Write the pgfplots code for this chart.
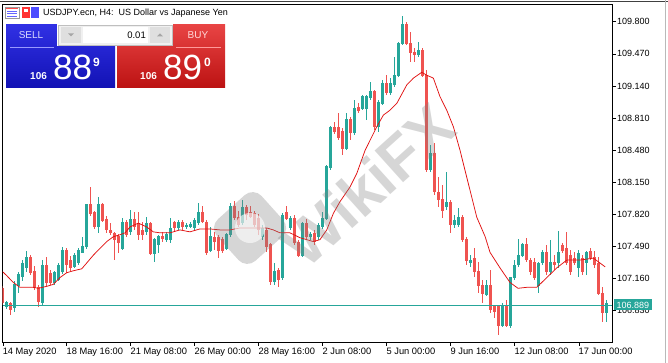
\documentclass[border=0pt]{standalone}
\usepackage{pgfplots}
\pgfplotsset{compat=1.18}
\usepackage{pgfplotstable}
\usepackage{fontspec}
\setmainfont{Liberation Sans}
\definecolor{bull}{HTML}{26A69A}
\definecolor{bear}{HTML}{EF5350}
\definecolor{maline}{HTML}{E01010}
\definecolor{blueTop}{HTML}{3030E4}
\definecolor{blueBot}{HTML}{1212B4}
\definecolor{redTop}{HTML}{E84444}
\definecolor{redBot}{HTML}{BC1212}

\pgfplotstableread{
i o h l c
0 106.87 106.93 106.85 106.91
2 106.86 107.13 106.82 107.10
3 107.09 107.23 107.01 107.20
4 107.18 107.35 107.14 107.32
5 107.27 107.44 107.23 107.38
9 106.91 107.35 106.89 107.30
12 107.12 107.24 107.09 107.22
13 107.15 107.32 107.13 107.30
14 107.23 107.49 107.21 107.45
17 107.28 107.42 107.27 107.40
18 107.32 107.47 107.30 107.45
19 107.43 107.59 107.42 107.49
20 107.49 107.93 107.46 107.92
23 107.69 108.00 107.63 107.92
29 107.47 107.78 107.45 107.74
31 107.64 107.86 107.61 107.77
35 107.64 107.79 107.61 107.73
37 107.42 107.58 107.33 107.56
38 107.51 107.61 107.42 107.59
40 107.56 107.64 107.54 107.61
41 107.56 107.78 107.53 107.68
43 107.68 107.76 107.66 107.74
45 107.69 107.73 107.67 107.71
46 107.70 107.74 107.68 107.72
47 107.68 107.78 107.66 107.76
48 107.74 107.94 107.71 107.84
51 107.45 107.69 107.43 107.59
55 107.47 107.63 107.45 107.61
56 107.61 107.94 107.59 107.90
59 107.73 107.97 107.71 107.89
64 107.59 107.71 107.56 107.68
67 107.13 107.32 107.09 107.23
69 107.17 107.83 107.15 107.81
71 107.68 107.80 107.66 107.78
74 107.40 107.74 107.38 107.73
76 107.59 107.64 107.56 107.61
78 107.59 107.73 107.56 107.71
79 107.69 107.84 107.67 107.78
80 107.78 108.33 107.76 108.31
81 108.30 108.73 108.28 108.71
85 108.50 108.86 108.48 108.80
87 108.66 109.00 108.64 108.91
89 108.91 109.05 108.89 109.03
90 108.91 109.05 108.79 109.03
91 109.02 109.18 109.00 109.08
93 108.72 109.00 108.67 108.97
94 108.96 109.20 108.94 109.17
96 109.07 109.22 109.05 109.17
97 109.15 109.44 109.13 109.25
98 109.25 109.59 109.23 109.58
99 109.58 109.86 109.56 109.77
103 109.46 109.59 109.44 109.51
106 108.28 108.53 108.26 108.45
110 107.90 108.26 107.86 107.94
112 107.71 107.81 107.68 107.76
113 107.71 107.89 107.69 107.79
116 107.32 107.40 107.28 107.35
120 107.00 107.15 106.98 107.09
124 106.68 106.91 106.66 106.87
126 106.68 107.18 106.65 107.17
127 107.17 107.35 107.15 107.30
128 107.30 107.57 107.28 107.40
129 107.40 107.53 107.38 107.51
133 107.09 107.33 107.01 107.32
134 107.32 107.45 107.30 107.43
136 107.23 107.56 107.20 107.33
138 107.33 107.65 107.27 107.43
143 107.27 107.45 107.18 107.42
145 107.33 107.44 107.20 107.43
150 106.81 106.94 106.71 106.91
}\bulldata

\pgfplotstableread{
i o h l c
-1 107.06 107.08 106.89 106.91
1 106.91 106.92 106.79 106.84
6 107.38 107.40 107.20 107.22
7 107.23 107.29 107.04 107.07
8 107.07 107.09 106.87 106.92
10 107.30 107.38 107.08 107.12
11 107.21 107.25 107.09 107.12
15 107.45 107.47 107.22 107.30
16 107.35 107.39 107.24 107.27
21 107.92 108.10 107.80 107.83
22 107.84 107.86 107.67 107.69
24 107.92 107.94 107.74 107.76
25 107.77 107.80 107.63 107.66
26 107.66 107.73 107.61 107.63
27 107.63 107.64 107.35 107.56
28 107.59 107.62 107.42 107.53
30 107.74 107.76 107.59 107.61
32 107.77 107.84 107.66 107.69
33 107.73 107.84 107.56 107.61
34 107.66 107.74 107.56 107.61
36 107.73 107.74 107.40 107.42
39 107.59 107.64 107.54 107.57
42 107.74 107.75 107.64 107.68
44 107.74 107.76 107.66 107.69
49 107.84 107.91 107.73 107.75
50 107.74 107.76 107.40 107.43
52 107.58 107.64 107.45 107.54
53 107.58 107.61 107.37 107.45
54 107.56 107.59 107.42 107.45
57 107.90 107.96 107.76 107.79
58 107.79 107.86 107.69 107.71
60 107.89 107.92 107.76 107.82
61 107.84 107.91 107.78 107.80
62 107.83 107.86 107.69 107.71
63 107.78 107.82 107.61 107.66
65 107.66 107.68 107.43 107.49
66 107.51 107.53 107.09 107.13
68 107.25 107.27 107.07 107.15
70 107.84 107.91 107.76 107.78
72 107.78 107.81 107.51 107.53
73 107.53 107.56 107.38 107.40
75 107.73 107.77 107.56 107.59
77 107.63 107.66 107.51 107.54
82 108.71 108.77 108.65 108.67
83 108.71 108.86 108.58 108.61
84 108.67 108.71 108.43 108.50
86 108.80 108.82 108.58 108.66
88 108.92 108.97 108.86 108.89
92 109.08 109.10 108.69 108.72
95 109.17 109.25 109.05 109.07
100 109.77 109.80 109.56 109.58
101 109.58 109.69 109.39 109.48
102 109.48 109.53 109.39 109.46
104 109.51 109.53 109.23 109.25
105 109.25 109.30 108.26 108.28
107 108.45 108.55 108.02 108.05
108 108.05 108.20 107.90 107.97
109 107.97 108.12 107.78 107.86
111 107.94 107.97 107.63 107.71
114 107.79 107.81 107.54 107.56
115 107.56 107.59 107.30 107.35
117 107.37 107.47 107.18 107.23
118 107.23 107.33 107.01 107.09
119 107.09 107.15 106.91 107.01
121 107.09 107.25 106.81 106.84
122 106.87 106.89 106.76 106.82
123 106.87 106.89 106.58 106.68
125 106.87 106.94 106.66 106.68
130 107.51 107.58 107.33 107.35
131 107.35 107.37 107.20 107.23
132 107.33 107.37 107.15 107.17
135 107.43 107.51 107.20 107.23
137 107.33 107.40 107.25 107.30
139 107.50 107.53 107.42 107.45
140 107.47 107.64 107.30 107.33
141 107.40 107.45 107.20 107.23
142 107.37 107.43 107.30 107.32
144 107.37 107.40 107.20 107.23
146 107.44 107.47 107.35 107.38
147 107.38 107.44 107.27 107.30
148 107.32 107.38 106.99 107.01
149 107.01 107.07 106.71 106.81
}\beardata

\begin{document}
\begin{tikzpicture}[x=1pt,y=1pt]
\path[use as bounding box] (0,0) rectangle (668,363);
\begin{axis}[
  at={(2.7pt,21pt)}, anchor=south west, scale only axis,
  width=609.3pt, height=338pt,
  xmin=-1, xmax=151.3, ymin=106.508, ymax=109.982,
  axis line style={black, line width=0.8pt},
  tick align=outside, major tick length=4pt,
  tick style={black, line width=0.6pt},
  xtick pos=bottom, ytick pos=right, yticklabel pos=right,
  xtick={-0.95,15,31,47,63,79,95,111,127,143},
  xticklabels={14 May 2020,18 May 16:00,21 May 08:00,26 May 00:00,28 May 16:00,2 Jun 08:00,5 Jun 00:00,9 Jun 16:00,12 Jun 08:00,17 Jun 00:00},
  xticklabel style={anchor=north west, inner sep=0pt, xshift=-0.3pt, yshift=-1.5pt, font=\fontsize{9.3}{10}\selectfont},
  ytick={106.83,107.16,107.49,107.82,108.15,108.48,108.81,109.14,109.47,109.8},
  yticklabels={106.830,107.160,107.490,107.820,108.150,108.480,108.810,109.140,109.470,109.800},
  yticklabel style={anchor=west, inner sep=0pt, xshift=1pt, font=\fontsize{9}{10}\selectfont},
]
% wicks
\addplot[draw=none, mark=none, forget plot, error bars/.cd, y dir=both, y explicit, error mark=none,
  error bar style={draw=bull, line width=1pt}]
  table[x=i, y expr={(\thisrow{h}+\thisrow{l})/2}, y error expr={(\thisrow{h}-\thisrow{l})/2}] {\bulldata};
\addplot[draw=none, mark=none, forget plot, error bars/.cd, y dir=both, y explicit, error mark=none,
  error bar style={draw=bear, line width=1pt}]
  table[x=i, y expr={(\thisrow{h}+\thisrow{l})/2}, y error expr={(\thisrow{h}-\thisrow{l})/2}] {\beardata};
% bodies
\addplot[draw=none, mark=none, forget plot, error bars/.cd, y dir=both, y explicit, error mark=none,
  error bar style={draw=bull, line width=3pt}]
  table[x=i, y expr={(\thisrow{o}+\thisrow{c})/2}, y error expr={abs(\thisrow{c}-\thisrow{o})/2+0.004}] {\bulldata};
\addplot[draw=none, mark=none, forget plot, error bars/.cd, y dir=both, y explicit, error mark=none,
  error bar style={draw=bear, line width=3pt}]
  table[x=i, y expr={(\thisrow{o}+\thisrow{c})/2}, y error expr={abs(\thisrow{c}-\thisrow{o})/2+0.004}] {\beardata};
% current price line
\addplot[bull, line width=0.8pt, forget plot] coordinates {(-1,106.889) (151.3,106.889)};
% moving average
\addplot[maline, line width=0.75pt, forget plot] coordinates {
(-1,107.23) (0,107.19) (1.65,107.12) (3.3,107.07) (6.65,107.07) (7.9,107.06) (10,107.08) (11.65,107.10)
(13.3,107.17) (15,107.22) (16.65,107.24) (18.75,107.26) (20,107.32) (21.65,107.40) (23.3,107.47)
(25,107.54) (26.65,107.59) (28.3,107.61) (29.6,107.63) (30.8,107.69) (32.9,107.73) (35,107.69)
(36.65,107.64) (38.3,107.63) (40.8,107.63) (43.3,107.66) (45.8,107.64) (48.3,107.67) (50.8,107.67)
(53.3,107.66) (55.8,107.66) (58.3,107.68) (60.8,107.68) (65,107.68) (66.65,107.66) (68.3,107.63)
(70.8,107.63) (73.3,107.58) (76.65,107.54) (78.3,107.56) (80,107.66) (81.65,107.83) (83.3,107.95)
(85.8,108.10) (87.5,108.24) (89.6,108.48) (92.5,108.72) (94.15,108.84) (95.8,108.89) (97.5,108.96)
(100,109.15) (101.65,109.22) (103.75,109.28) (105,109.25) (106.65,109.22) (108.3,109.03) (110,108.89)
(111.65,108.72) (113.3,108.48) (115,108.20) (117.5,107.79) (119.6,107.59) (120.8,107.43) (123.3,107.27)
(125.8,107.12) (127.8,107.06) (130,107.07) (132.5,107.07) (135,107.17) (137.5,107.27) (140,107.35)
(143.3,107.35) (146.65,107.37) (149.6,107.28)};
\coordinate (pl) at (axis cs:151.3,106.889);
\end{axis}
% price tag
\node[fill=bull, text=white, anchor=west, inner xsep=2.5pt, inner ysep=0pt, minimum height=11pt,
  font=\fontsize{9}{10}\selectfont] at ([xshift=2pt]pl) {106.889};
% window border lines
\draw[black!75, line width=0.8pt] (0,361.6) -- (668,361.6);
\draw[gray!55, line width=0.8pt] (665,0) -- (665,363);
% watermark
\node[rotate=42, text=gray, opacity=0.32, font=\bfseries\fontsize{62}{62}\selectfont] at (368,178) {WikiFX};
\begin{scope}[shift={(250,135)}, rotate=42]
  \fill[gray, opacity=0.32, rounded corners=12pt] (-30,-28) rectangle (30,28);
  \fill[white, opacity=0.6] (0,0) circle (15);
\end{scope}
% title
\fill[white] (4,344) rectangle (300,358);
\draw[gray!80, fill=white] (5,345) rectangle (19,356);
\fill[red!70] (6,353.5) rectangle (18,355);
\foreach \yy in {347,349.5,352} {\draw[blue!60, line width=0.6pt] (7,\yy) -- (17,\yy);}
\fill[red!80] (22,345) rectangle (30,356);
\fill[blue!70] (31,345) rectangle (39,356);
\fill[white] (24,351) rectangle (28,354);
\node[anchor=west, inner sep=0pt, font=\fontsize{9}{10}\selectfont] at (43,350) {USDJPY.ecn, H4:\ \ US Dollar vs Japanese Yen};
% trade panel
\shade[top color=blueTop, bottom color=blueBot] (6,338) rectangle (115,275);
\shade[top color=redTop, bottom color=redBot] (117,338) rectangle (225,275);
\fill[white] (57,339) rectangle (173,317);
\fill[gray!12] (58,338) rectangle (172,318);
\draw[gray!50] (58,338) rectangle (172,318);
\fill[gray!25] (61,336) rectangle (81,320);
\fill[gray!25] (150,336) rectangle (170,320);
\fill[white] (83,336) rectangle (148,320);
\fill[gray!70] (68,329.5) -- (74,329.5) -- (71,326.5) -- cycle;
\fill[gray!70] (157,326.5) -- (163,326.5) -- (160,329.5) -- cycle;
\node[anchor=east, inner sep=0pt, font=\fontsize{9.5}{10}\selectfont] at (146,328) {0.01};
\node[text=white!85!blue, inner sep=0pt, font=\fontsize{10}{11}\selectfont] at (31,328) {SELL};
\draw[white!60!blue, line width=0.6pt] (10,316) -- (54,316);
\node[text=white!85!red, inner sep=0pt, font=\fontsize{10}{11}\selectfont] at (198,328) {BUY};
\draw[white!60!red, line width=0.6pt] (176,316) -- (221,316);
\node[anchor=base west, text=white, inner sep=0pt, font=\bfseries\fontsize{10}{11}\selectfont] at (30,283) {106};
\node[anchor=base west, text=white, inner sep=0pt, font=\fontsize{35}{36}\selectfont] at (53,283) {88};
\node[anchor=base west, text=white, inner sep=0pt, font=\bfseries\fontsize{12}{12}\selectfont] at (93,296) {9};
\node[anchor=base west, text=white, inner sep=0pt, font=\bfseries\fontsize{10}{11}\selectfont] at (140,283) {106};
\node[anchor=base west, text=white, inner sep=0pt, font=\fontsize{35}{36}\selectfont] at (163,283) {89};
\node[anchor=base west, text=white, inner sep=0pt, font=\bfseries\fontsize{12}{12}\selectfont] at (204,296) {0};
\end{tikzpicture}
\end{document}
